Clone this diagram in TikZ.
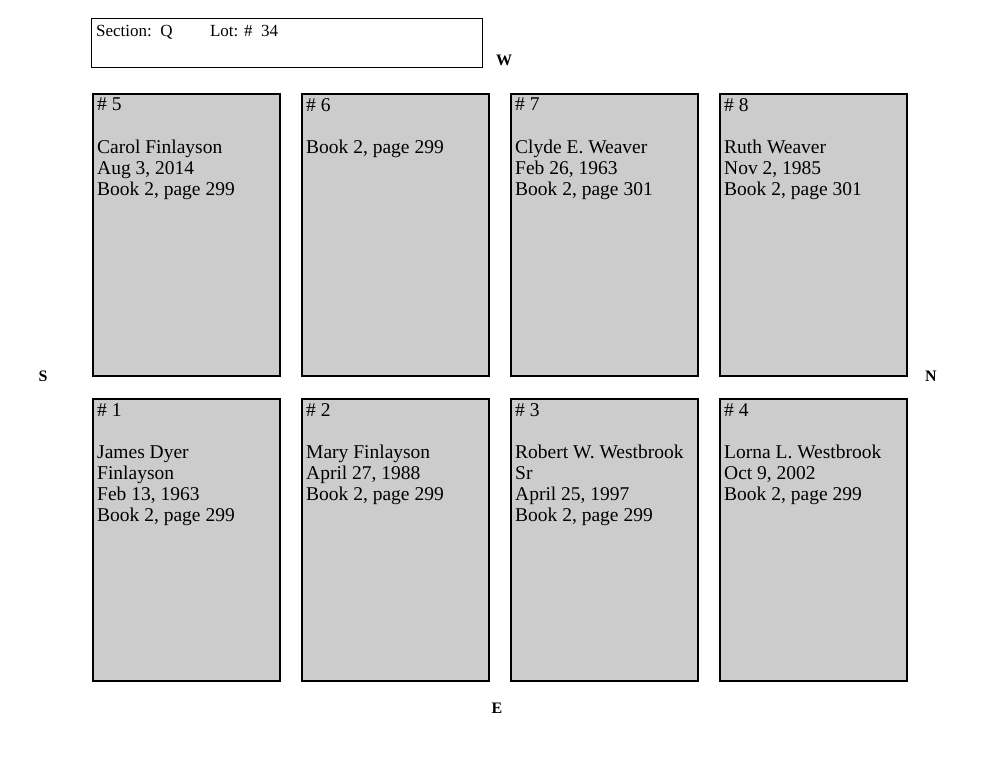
\documentclass[tikz,border=0pt]{standalone}
\usepackage{fontspec}
\setmainfont{Liberation Serif}
\begin{document}
\begin{tikzpicture}[x=1pt,y=-1pt,
  plot/.style={draw,line width=2.2pt,fill=black!20,minimum width=187pt,minimum height=282pt,anchor=north west,inner sep=0pt},
  ptxt/.style={anchor=north west,align=left,inner sep=0pt,font=\fontsize{19.5}{21.2}\selectfont},
  dir/.style={font=\bfseries\fontsize{16}{16}\selectfont}]
\useasboundingbox (0,0) rectangle (1000,773);
\node[draw,line width=0.8pt,minimum width=391pt,minimum height=49pt,anchor=north west,inner sep=0pt] (hdr) at (91,18) {};
\node[anchor=north west,inner sep=0pt,font=\fontsize{17}{17}\selectfont] (hdrt) at (96,25) {Section:\ \ Q\hspace{2.2em}Lot: \#\ \ 34};
\foreach \n/\x/\y/\t in {
 5/92/93/{\# 5\\[21pt]Carol Finlayson\\Aug 3, 2014\\Book 2, page 299},
 6/301/93/{\# 6\\[21pt]Book 2, page 299},
 7/510/93/{\# 7\\[21pt]Clyde E. Weaver\\Feb 26, 1963\\Book 2, page 301},
 8/719/93/{\# 8\\[21pt]Ruth Weaver\\Nov 2, 1985\\Book 2, page 301},
 1/92/398/{\# 1\\[21pt]James Dyer\\Finlayson\\Feb 13, 1963\\Book 2, page 299},
 2/301/398/{\# 2\\[21pt]Mary Finlayson\\April 27, 1988\\Book 2, page 299},
 3/510/398/{\# 3\\[21pt]Robert W. Westbrook\\Sr\\April 25, 1997\\Book 2, page 299},
 4/719/398/{\# 4\\[21pt]Lorna L. Westbrook\\Oct 9, 2002\\Book 2, page 299}}
{
 \node[plot] (p\n) at (\x,\y) {};
 \node[ptxt] (t\n) at (\x+5,\y+5) {\t};
}
\node[dir] (W) at (504,60) {W};
\node[dir] (S) at (43,376) {S};
\node[dir] (N) at (931,376) {N};
\node[dir] (E) at (497,708) {E};
\end{tikzpicture}
\end{document}
